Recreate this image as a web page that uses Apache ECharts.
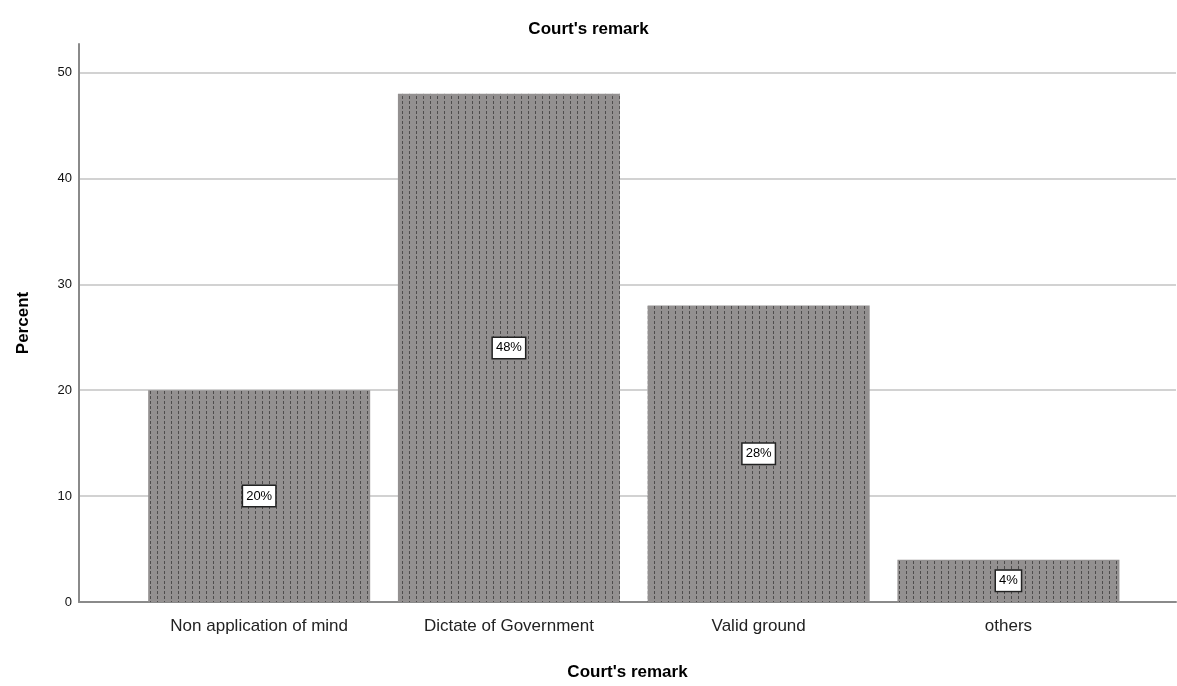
<!DOCTYPE html>
<html>
<head>
<meta charset="utf-8">
<script src="https://cdn.jsdelivr.net/npm/echarts@6/dist/echarts.min.js"></script>
<style>
  html, body { margin: 0; padding: 0; background: #fff; }
  #chart { width: 1177px; height: 686px; }
</style>
</head>
<body>
<div id="chart"></div>
<script>
// Court's remark: share of cases per remark category (percent)
const categories = ['Non application of mind', 'Dictate of Government', 'Valid ground', 'others'];
const percents = [20, 48, 28, 4];
const yTicks = [0, 10, 20, 30, 40, 50];

// Grey fill with dashed vertical dots used for the bars
function dottedPattern() {
  const c = document.createElement('canvas');
  c.width = 7; c.height = 5;
  const ctx = c.getContext('2d');
  ctx.fillStyle = '#939090';
  ctx.fillRect(0, 0, 7, 5);
  ctx.fillStyle = '#4e4c4c';
  ctx.fillRect(3, 1, 1, 3);
  return c;
}

const font = 'Liberation Sans, Arial, sans-serif';
const chart = echarts.init(document.getElementById('chart'), null, { renderer: 'canvas' });

chart.setOption({
  animation: false,
  backgroundColor: '#ffffff',
  title: {
    text: "Court's remark",
    left: 'center',
    top: 16,
    textStyle: { fontFamily: font, fontSize: 17, fontWeight: 'bold', color: '#000' }
  },
  grid: { left: 79, right: 1, top: 44, bottom: 78, containLabel: false },
  xAxis: {
    type: 'value',
    min: -0.7214,
    max: 3.671,
    name: "Court's remark",
    nameLocation: 'middle',
    nameGap: 62,
    nameTextStyle: { fontFamily: font, fontSize: 17, fontWeight: 'bold', color: '#000' },
    axisLine: { show: true, onZero: false, lineStyle: { color: '#8a8a8a', width: 2 } },
    axisTick: { show: false },
    splitLine: { show: false },
    axisLabel: {
      customValues: categories.map((_, i) => i),
      formatter: v => categories[Math.round(v)] || '',
      margin: 16,
      fontFamily: font,
      fontSize: 17,
      color: '#222'
    }
  },
  yAxis: {
    type: 'value',
    min: 0,
    max: 52.7,
    interval: 10,
    name: 'Percent',
    nameLocation: 'middle',
    nameGap: 47,
    nameRotate: 90,
    nameTextStyle: { fontFamily: font, fontSize: 17, fontWeight: 'bold', color: '#000' },
    axisLine: { show: true, onZero: false, lineStyle: { color: '#8a8a8a', width: 2 } },
    axisTick: { show: false },
    axisLabel: {
      customValues: yTicks,
      margin: 7,
      fontFamily: font,
      fontSize: 13,
      color: '#111'
    },
    splitLine: { show: true, showMaxLine: false, lineStyle: { color: '#d2d2d2', width: 2 } }
  },
  series: [{
    type: 'bar',
    data: percents.map((v, i) => [i, v]),
    barWidth: 222,
    itemStyle: { color: { image: dottedPattern(), repeat: 'repeat' } },
    label: {
      show: true,
      position: 'inside',
      formatter: p => p.value[1] + '%',
      fontFamily: font,
      fontSize: 13,
      color: '#000',
      backgroundColor: '#ffffff',
      borderColor: '#222222',
      borderWidth: 1.5,
      padding: [4, 3, 3, 3]
    }
  }]
});
</script>
</body>
</html>
